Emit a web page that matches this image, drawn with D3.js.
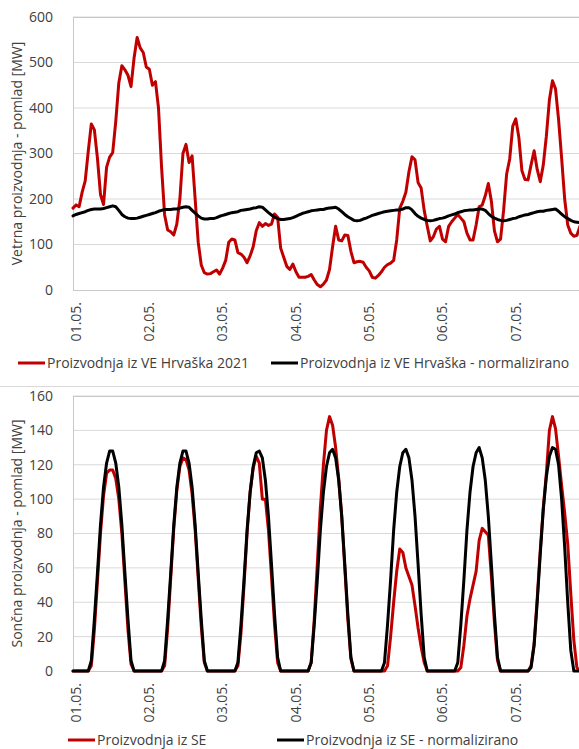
<!DOCTYPE html>
<html>
<head>
<meta charset="utf-8">
<script src="https://cdn.jsdelivr.net/npm/d3@7"></script>
<style>
  body { margin: 0; background: #fff; }
  svg { display: block; }
  text { font-family: 'Open Sans', sans-serif; fill: #404040; }
</style>
</head>
<body>
<div id="chart"></div>
<script>
// day labels, one per 24 hourly points
var days = ['01.05.', '02.05.', '03.05.', '04.05.', '05.05.', '06.05.', '07.05.'];

// wind production, hourly [MW]
var windActual = [
    180,187,183,215,240,305,365,352,290,210,188,270,292,302,370,455,493,484,472,447,510,555,532,522,
    490,485,450,458,400,270,165,132,128,121,145,200,300,320,280,295,200,105,55,38,35,36,40,44,
    35,48,65,105,112,110,82,79,72,60,75,95,130,148,140,146,142,145,167,160,92,72,52,45,
    57,40,28,28,28,30,34,22,12,7,13,22,45,95,140,110,108,121,120,85,60,62,63,61,
    50,42,28,26,32,40,50,56,59,65,110,180,195,215,260,293,286,236,224,175,140,108,117,134,
    140,112,106,140,150,158,166,158,150,125,110,110,143,183,187,207,234,195,130,106,112,175,255,288,
    360,376,335,262,243,242,275,306,265,238,275,338,418,460,442,375,290,200,143,125,118,120,140,150
];
var windNorm = [
    163,166,168,170,172,175,177,178,178,178,179,181,183,185,183,175,166,161,158,157,157,158,160,162,
    164,166,168,170,173,175,177,177,177,178,178,180,182,183,182,175,169,163,158,156,156,157,157,159,
    162,164,166,168,170,171,172,175,176,177,178,180,181,183,182,176,170,165,160,157,155,155,156,157,
    159,162,165,168,170,172,174,175,176,177,177,179,180,181,182,178,172,166,161,157,153,152,153,156,
    158,161,164,166,168,170,172,173,174,175,176,176,178,181,181,176,168,162,158,155,153,152,153,155,
    157,158,160,163,165,167,170,172,174,175,176,176,177,178,178,175,168,162,158,155,153,152,153,155,
    157,158,161,163,165,166,168,170,172,173,173,175,176,177,178,173,167,161,157,153,150,149,148,148
];

// solar production, hourly [MW]
var solarActual = [
    0,0,0,0,0,0,3,24,52,80,102,115,117,117,112,100,80,52,24,4,0,0,0,0,
    0,0,0,0,0,0,3,25,54,83,105,119,124,123,117,103,82,54,26,5,0,0,0,0,
    0,0,0,0,0,0,3,22,50,80,104,118,125,121,100,100,82,55,27,5,0,0,0,0,
    0,0,0,0,0,0,5,30,62,95,120,140,148,143,130,112,90,60,30,7,0,0,0,0,
    0,0,0,0,0,0,0,3,20,40,58,71,69,60,55,50,38,25,14,5,0,0,0,0,
    0,0,0,0,0,0,0,2,15,32,42,50,58,76,83,81,79,55,28,6,0,0,0,0,
    0,0,0,0,0,0,3,16,42,70,95,115,140,148,141,125,108,92,74,45,18,2,0,0
];
var solarNorm = [
    0,0,0,0,0,0,6,30,57,85,107,121,128,128,121,107,85,57,30,6,0,0,0,0,
    0,0,0,0,0,0,6,30,57,85,107,121,128,128,121,107,85,57,30,6,0,0,0,0,
    0,0,0,0,0,0,5,27,53,82,104,119,127,128,124,111,90,62,33,8,0,0,0,0,
    0,0,0,0,0,0,5,27,53,82,104,119,127,129,124,111,90,62,33,8,0,0,0,0,
    0,0,0,0,0,0,5,27,53,82,104,119,127,129,124,111,90,62,33,8,0,0,0,0,
    0,0,0,0,0,0,5,27,53,82,104,119,127,130,124,111,90,62,33,8,0,0,0,0,
    0,0,0,0,0,0,2,15,40,68,94,113,125,130,129,120,100,72,40,12,0,0,0,0
];

var windTicks = [0, 100, 200, 300, 400, 500, 600];
var solarTicks = [0, 20, 40, 60, 80, 100, 120, 140, 160];

var width = 579;
var height = 749;
var red = '#c00000';
var fontsize = '14px';

var svg = d3.select('#chart')
    .append('svg')
    .attr('width', width)
    .attr('height', height);

var x = d3.scaleLinear()
    .domain([0, windActual.length - 1])
    .range([73, 583]);

function panel(opts){
    var y = d3.scaleLinear()
        .domain([0, opts.ticks[opts.ticks.length - 1]])
        .range([opts.bottom, opts.top]);

    var g = svg.append('g');

    //gridlines
    g.append('g')
        .selectAll('line')
        .data(opts.ticks.slice(1))
        .enter().append('line')
        .attr('x1', 73).attr('x2', width)
        .attr('y1', function(d){ return y(d); })
        .attr('y2', function(d){ return y(d); })
        .style('stroke', '#d9d9d9')
        .style('stroke-width', 1);

    //plot area border
    g.append('rect')
        .attr('x', 73.5)
        .attr('y', opts.top + 0.5)
        .attr('width', 540)
        .attr('height', opts.bottom - opts.top)
        .style('fill', 'none')
        .style('stroke', '#c8c8c8');

    //y axis labels
    var yAxis = d3.axisLeft(y).tickValues(opts.ticks).tickSize(0).tickPadding(20);
    var ya = g.append('g')
        .attr('transform', 'translate(73,0)')
        .call(yAxis);
    ya.select('.domain').remove();
    ya.selectAll('text')
        .style('font-size', fontsize)
        .style('font-family', "'Open Sans', sans-serif")
        .style('fill', '#404040');

    //x labels, one per day
    g.append('g')
        .selectAll('text')
        .data(days)
        .enter().append('text')
        .attr('transform', function(d, i){
            return 'translate(' + (x(i * 24) + 3) + ',' + (opts.bottom + 12) + ') rotate(-90)';
        })
        .attr('text-anchor', 'end')
        .attr('dy', '0.35em')
        .style('font-size', fontsize)
        .text(function(d){ return d; });

    //y title
    g.append('text')
        .attr('transform', 'translate(17,' + ((opts.top + opts.bottom) / 2) + ') rotate(-90)')
        .attr('text-anchor', 'middle')
        .attr('dy', '0.35em')
        .style('font-size', fontsize)
        .text(opts.title);

    var line = d3.line()
        .x(function(d, i){ return x(i); })
        .y(function(d){ return y(d); });

    opts.series.forEach(function(s){
        g.append('path')
            .datum(s.values)
            .attr('d', line)
            .style('fill', 'none')
            .style('stroke', s.color)
            .style('stroke-width', 3)
            .style('stroke-linejoin', 'round')
            .style('stroke-linecap', 'round');
    });

    //legend
    opts.legend.forEach(function(l){
        g.append('line')
            .attr('x1', l.x).attr('x2', l.x + 27)
            .attr('y1', opts.legendY).attr('y2', opts.legendY)
            .style('stroke', l.color)
            .style('stroke-width', 3);
        g.append('text')
            .attr('x', l.x + 29)
            .attr('y', opts.legendY)
            .attr('dy', '0.35em')
            .style('font-size', fontsize)
            .text(l.name);
    });
}

panel({
    top: 17, bottom: 290,
    ticks: windTicks,
    title: 'Vetrna proizvodnja - pomlad [MW]',
    series: [
        {values: windActual, color: red},
        {values: windNorm, color: '#000'}
    ],
    legendY: 363,
    legend: [
        {x: 18, color: red, name: 'Proizvodnja iz VE Hrvaška 2021'},
        {x: 271, color: '#000', name: 'Proizvodnja iz VE Hrvaška - normalizirano'}
    ]
});

//separator between the two charts
svg.append('line')
    .attr('x1', 0).attr('x2', width)
    .attr('y1', 386.5).attr('y2', 386.5)
    .style('stroke', '#d9d9d9');

panel({
    top: 396, bottom: 671,
    ticks: solarTicks,
    title: 'Sončna proizvodnja - pomlad [MW]',
    series: [
        {values: solarActual, color: red},
        {values: solarNorm, color: '#000'}
    ],
    legendY: 740,
    legend: [
        {x: 68, color: red, name: 'Proizvodnja iz SE'},
        {x: 277, color: '#000', name: 'Proizvodnja iz SE - normalizirano'}
    ]
});
</script>
</body>
</html>
